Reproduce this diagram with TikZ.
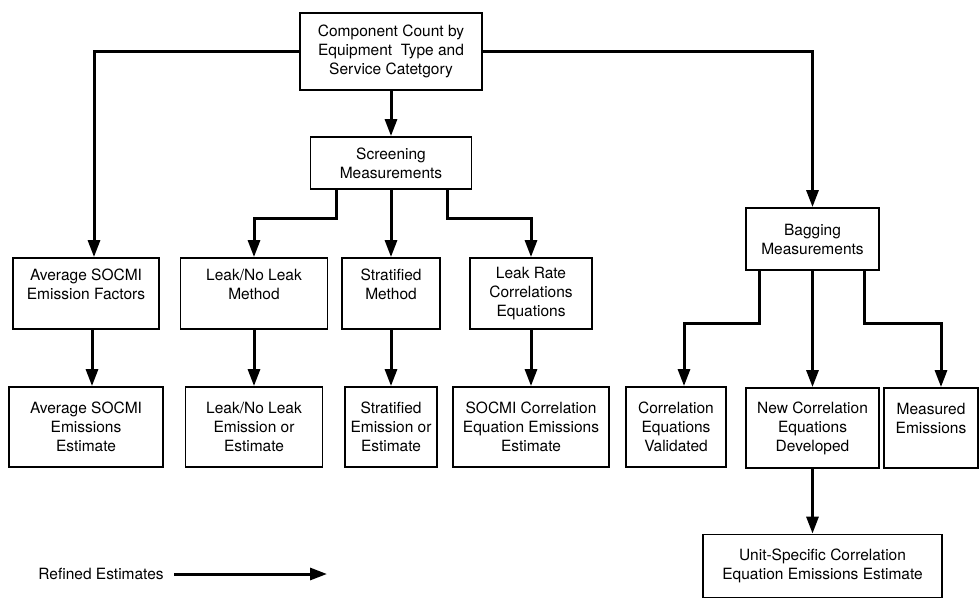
\documentclass[tikz,border=0pt]{standalone}
\usepackage{fontspec}
\setmainfont{TeX Gyre Heros}
\usetikzlibrary{arrows.meta,positioning}

\begin{document}
\begin{tikzpicture}[->,>={Triangle[length=17pt,width=12pt]},line width=3pt,x=1pt,y=1pt,node distance=133.5pt,
                    box/.style={draw, line width=1.8pt, align=center, inner sep=2pt, font=\fontsize{15.5}{19}\selectfont},]
                    \useasboundingbox (0,0) rectangle (980,-599);

                    \node [box, minimum width=182pt, minimum height=77pt](1) at (391,-51.5){Component Count by\\Equipment~ Type and\\Service Catetgory};
                    \node [box, minimum width=161pt, minimum height=52pt](2) at (391,-163){Screening\\Measurements};

                    % middle row
                    \node [box, minimum width=146pt, minimum height=71pt](3) at (86,-293.5){Average SOCMI\\Emission Factors\\\phantom{X}};
                    \node [box, minimum width=147pt, minimum height=71pt](4) at (254,-293.5){Leak/No Leak\\Method\\\phantom{X}};
                    \node [box, minimum width=98pt, minimum height=71pt](5) at (391,-293.5){Stratified\\Method\\\phantom{X}};
                    \node [box, minimum width=122pt, minimum height=71pt](6) at (531,-293.5){Leak Rate\\Correlations\\Equations};
                    \node [box, minimum width=133pt, minimum height=62pt](11) at (812.5,-239){Bagging\\Measurements};

                    % bottom row
                    \node [box, minimum width=154pt, minimum height=80pt](7) [below of = 3]{Average SOCMI\\Emissions\\Estimate};
                    \node [box, minimum width=137pt, minimum height=80pt](8) [below of = 4]{Leak/No Leak\\Emission or\\Estimate};
                    \node [box, minimum width=92pt, minimum height=80pt](9) [below of = 5]{Stratified\\Emission or\\Estimate};
                    \node [box, minimum width=156pt, minimum height=80pt](10) [below of = 6]{SOCMI Correlation\\Equation Emissions\\Estimate};
                    \node [box, minimum width=100pt, minimum height=80pt](12) at (676,-427){Correlation\\Equations\\Validated};
                    \node [box, minimum width=133pt, minimum height=80pt](13) at (812.5,-428){New Correlation\\Equations\\Developed};
                    \node [box, minimum width=94pt, minimum height=80pt](14) at (931,-428){Measured\\Emissions\\\phantom{X}};
                    \node [box, minimum width=239pt, minimum height=63pt](15) at (822.5,-566){Unit-Specific Correlation\\Equation Emissions Estimate};

                    % legend
                    \node [font=\fontsize{15.5}{19}\selectfont](16) at (101,-574){Refined Estimates};
                    \coordinate (17) at (327,-574);

                    \draw (1.west) -| ([xshift=8]3.north);
                    \draw (1.east) -| (11);
                    \draw ([xshift=-55]2.south) -- ++(0,-29) -| (4);
                    \draw ([xshift=56]2.south) -- ++(0,-29) -| (6);
                    \draw ([xshift=-53]11.south) -- ++(0,-53) -| ([xshift=8]12.north);
                    \draw ([xshift=52]11.south) -- ++(0,-53) -| ([xshift=10]14.north);
                    \draw ([xshift=6]3.south) -- ([xshift=6]3.south |- 7.north);
                    \draw (13) -- (13 |- 15.north);

                    \path
                        (1) edge (2)
                        (2) edge (5)
                        (4) edge (8)
                        (5) edge (9)
                        (6) edge (10)
                        (11) edge (13)
                    ;

                    \draw ([xshift=6]16.east) -- (17);

                \end{tikzpicture}
\end{document}
